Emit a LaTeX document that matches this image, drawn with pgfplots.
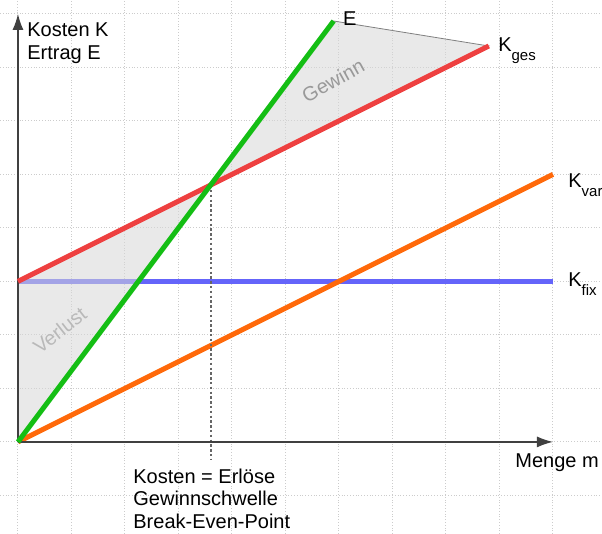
\documentclass[border=0pt]{standalone}
\usepackage{pgfplots}
\pgfplotsset{compat=1.18}
\usepackage{fontspec}
\setmainfont{Liberation Sans}
\usetikzlibrary{arrows.meta}

\definecolor{egreen}{RGB}{20,190,20}
\definecolor{kred}{RGB}{238,64,64}
\definecolor{kblue}{RGB}{100,100,250}
\definecolor{korange}{RGB}{255,105,10}
\definecolor{fillgray}{RGB}{215,215,215}

\begin{document}
\begin{tikzpicture}
\begin{axis}[
    x=26.75pt, y=26.75pt,
    xmin=-0.336, xmax=10.916, ymin=-1.72, ymax=8.26,
    xtick={0,...,10}, ytick={-1,...,8},
    xticklabels={}, yticklabels={},
    major tick length=0pt,
    grid=major,
    grid style={densely dotted, gray!40, line width=0.5pt},
    axis line style={draw=none},
    clip=false,
    font=\fontsize{10}{12}\selectfont,
]
% K_fix = 3, K_var = 0.5 m, K_ges = 3 + 0.5 m, E = 4/3 m
\addplot[kblue, line width=2.5pt] coordinates {(0,3) (10,3)};
\addplot[korange, line width=2.5pt] coordinates {(0,0) (10,5)};
% Verlust / Gewinn areas
\addplot[fill=fillgray, fill opacity=0.55, draw=gray, line width=0.4pt]
    coordinates {(0,0) (0,3) (3.6,4.8)} -- cycle;
\addplot[fill=fillgray, fill opacity=0.55, draw=gray, line width=0.4pt]
    coordinates {(3.6,4.8) (5.9,7.867) (8.8,7.4)} -- cycle;
% break-even marker
\addplot[dash pattern=on 1.2pt off 1.2pt, black!60, line width=1pt] coordinates {(3.6,4.8) (3.6,-0.34)};
% axes
\addplot[black!75, line width=0.7pt, -{Latex[length=8pt,width=5.5pt]}] coordinates {(0,0) (10,0)};
\addplot[black!75, line width=0.7pt, -{Latex[length=8pt,width=5.5pt]}] coordinates {(0,0) (0,8)};
% K_ges and E
\addplot[kred, line width=2.5pt] coordinates {(0,3) (8.8,7.4)};
\addplot[egreen, line width=2.5pt] coordinates {(0,0) (5.9,7.867)};

\node[anchor=base west, inner sep=0pt] at (axis cs:0.168,7.57) {Kosten K};
\node[anchor=base west, inner sep=0pt] at (axis cs:0.168,7.14) {Ertrag E};
\node[anchor=base west, inner sep=0pt] at (axis cs:6.07,7.79) {E};
\node[anchor=base west, inner sep=0pt] at (axis cs:8.97,7.29) {K\raisebox{-4.5pt}{\fontsize{7.5}{8}\selectfont ges}};
\node[anchor=base west, inner sep=0pt] at (axis cs:10.28,4.75) {K\raisebox{-4.5pt}{\fontsize{7.5}{8}\selectfont var}};
\node[anchor=base west, inner sep=0pt] at (axis cs:10.28,2.9) {K\raisebox{-4.5pt}{\fontsize{7.5}{8}\selectfont fix}};
\node[anchor=base west, inner sep=0pt] at (axis cs:9.29,-0.47) {Menge m};
\node[anchor=base west, inner sep=0pt] at (axis cs:2.15,-0.77) {Kosten = Erlöse};
\node[anchor=base west, inner sep=0pt] at (axis cs:2.15,-1.19) {Gewinnschwelle};
\node[anchor=base west, inner sep=0pt] at (axis cs:2.15,-1.61) {Break-Even-Point};
\node[rotate=29, text=gray!80] at (axis cs:5.89,6.75) {Gewinn};
\node[rotate=38, text=gray!55] at (axis cs:0.78,2.09) {Verlust};
\end{axis}
\pgfresetboundingbox
\useasboundingbox (current axis.south west) rectangle (current axis.north east);
\end{tikzpicture}
\end{document}
